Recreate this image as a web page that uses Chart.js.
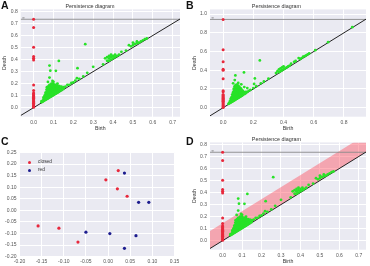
<!DOCTYPE html>
<html>
<head>
<meta charset="utf-8">
<script src="https://cdn.jsdelivr.net/npm/chart.js@4.4.1/dist/chart.umd.min.js"></script>
<style>
body{margin:0;background:#fff;font-family:"Liberation Sans",Arial,sans-serif}
#fig{position:relative;width:370px;height:266px;overflow:hidden}
canvas{position:absolute}
.tag{position:absolute;font-weight:bold;font-size:10.5px;line-height:1;color:#111}
.leg{position:absolute;font-size:4.8px;line-height:1;color:#333;white-space:nowrap}
.dot{position:absolute;width:3px;height:3px;border-radius:50%}
</style>
</head>
<body>
<div id="fig">
  <canvas id="cA" width="185" height="133" style="left:0;top:0"></canvas>
  <canvas id="cB" width="185" height="133" style="left:185px;top:0"></canvas>
  <canvas id="cC" width="185" height="133" style="left:0;top:133px"></canvas>
  <canvas id="cD" width="185" height="133" style="left:185px;top:133px"></canvas>
  <div class="tag" style="left:1px;top:0">A</div>
  <div class="tag" style="left:186px;top:0">B</div>
  <div class="tag" style="left:1px;top:136px">C</div>
  <div class="tag" style="left:186px;top:136px">D</div>
  <div class="dot" style="left:27.5px;top:161.2px;background:#e8283c"></div>
  <div class="leg" style="left:38px;top:160.3px">closed</div>
  <div class="dot" style="left:28.2px;top:168.5px;background:#1c1c8e"></div>
  <div class="leg" style="left:38px;top:167.6px">red</div>
</div>
<script>
// ---- data ----
// panel A / D : persistence diagram (birth, death)
const rangeA = [-0.065, 0.737];
const yRangeA = [-0.075, 0.817];
const infA = 0.735;
const xTicksA = [0, 0.1, 0.2, 0.3, 0.4, 0.5, 0.6, 0.7];
const yTicksA = [0, 0.1, 0.2, 0.3, 0.4, 0.5, 0.6, 0.7, 0.8];
const h0DeathA = [0.735, 0.667, 0.503, 0.425, 0.41, 0.397, 0.189, 0.142, 0.122, 0.115, 0.108, 0.1, 0.093,
  0.086, 0.079, 0.072, 0.065, 0.058, 0.051, 0.044, 0.037, 0.03, 0.023, 0.016, 0.009, 0.003];
const h1A = [
  [0.04,0.045],[0.04,0.055],[0.045,0.05],
  [0.05,0.055],[0.05,0.07],[0.05,0.085],[0.055,0.06],[0.055,0.08],[0.055,0.1],
  [0.06,0.065],[0.06,0.08],[0.06,0.095],[0.06,0.11],[0.06,0.125],[0.065,0.07],[0.065,0.09],[0.065,0.11],[0.065,0.13],[0.065,0.15],
  [0.07,0.075],[0.07,0.09],[0.07,0.105],[0.07,0.12],[0.07,0.135],[0.07,0.15],[0.07,0.165],
  [0.075,0.08],[0.075,0.1],[0.075,0.12],[0.075,0.14],[0.075,0.16],[0.075,0.18],
  [0.08,0.085],[0.08,0.1],[0.08,0.115],[0.08,0.13],[0.08,0.145],[0.08,0.16],[0.08,0.175],[0.08,0.19],
  [0.085,0.09],[0.085,0.11],[0.085,0.13],[0.085,0.15],[0.085,0.17],[0.085,0.19],
  [0.09,0.095],[0.09,0.11],[0.09,0.125],[0.09,0.14],[0.09,0.155],[0.09,0.17],[0.09,0.185],[0.09,0.2],
  [0.095,0.1],[0.095,0.12],[0.095,0.14],[0.095,0.16],[0.095,0.18],[0.095,0.2],
  [0.1,0.105],[0.1,0.12],[0.1,0.135],[0.1,0.15],[0.1,0.165],[0.1,0.18],[0.1,0.195],
  [0.105,0.11],[0.105,0.13],[0.105,0.15],[0.105,0.17],[0.105,0.19],
  [0.11,0.115],[0.11,0.13],[0.11,0.145],[0.11,0.16],[0.11,0.175],[0.11,0.19],
  [0.115,0.12],[0.115,0.14],[0.115,0.16],[0.115,0.18],
  [0.12,0.125],[0.12,0.14],[0.12,0.155],[0.12,0.17],[0.12,0.185],
  [0.125,0.13],[0.125,0.15],[0.125,0.17],
  [0.13,0.135],[0.13,0.15],[0.13,0.165],[0.13,0.18],
  [0.14,0.145],[0.14,0.16],[0.14,0.175],[0.15,0.155],[0.15,0.17],
  [0.16,0.175],[0.17,0.19],[0.18,0.19],[0.19,0.205],[0.2,0.21],[0.21,0.225],[0.23,0.24],[0.25,0.26],
  [0.26,0.528],[0.127,0.389],[0.08,0.35],[0.084,0.308],[0.112,0.306],[0.221,0.328],[0.27,0.29],
  [0.3,0.34],[0.218,0.245],[0.08,0.25],[0.072,0.214],[0.095,0.222],[0.067,0.17],[0.1,0.215],[0.12,0.2],
  [0.35,0.36],[0.36,0.41],[0.37,0.39],[0.37,0.42],[0.38,0.39],[0.38,0.41],[0.38,0.43],[0.39,0.4],
  [0.39,0.42],[0.39,0.44],[0.4,0.41],[0.4,0.43],[0.41,0.42],[0.41,0.44],[0.42,0.43],[0.43,0.44],[0.442,0.464],
  [0.465,0.475],[0.48,0.52],[0.49,0.51],[0.5,0.52],[0.5,0.54],[0.51,0.53],[0.52,0.535],[0.52,0.55],
  [0.53,0.54],[0.54,0.55],[0.55,0.56],[0.56,0.57],[0.57,0.575]
];
const bandOffsetD = 0.145;

// panel B
const rangeB = [-0.087, 0.946];
const yRangeB = [-0.096, 1.05];
const infB = 0.943;
const xTicksB = [0, 0.2, 0.4, 0.6, 0.8];
const yTicksB = [0, 0.2, 0.4, 0.6, 0.8, 1.0];
const h0DeathB = [0.943, 0.62, 0.49, 0.41, 0.4, 0.31, 0.18, 0.17, 0.14, 0.13, 0.12, 0.11, 0.1, 0.09,
  0.08, 0.07, 0.06, 0.05, 0.04, 0.03, 0.02, 0.01, 0.003];
const h1B = [
  [0.035,0.04],[0.04,0.05],[0.045,0.05],[0.045,0.07],
  [0.05,0.055],[0.05,0.075],[0.05,0.095],[0.055,0.06],[0.055,0.085],[0.055,0.11],
  [0.06,0.065],[0.06,0.09],[0.06,0.115],[0.06,0.14],[0.065,0.07],[0.065,0.1],[0.065,0.13],[0.065,0.16],
  [0.07,0.075],[0.07,0.1],[0.07,0.125],[0.07,0.15],[0.07,0.175],[0.07,0.2],
  [0.075,0.08],[0.075,0.11],[0.075,0.14],[0.075,0.17],[0.075,0.2],[0.075,0.225],
  [0.08,0.085],[0.08,0.11],[0.08,0.135],[0.08,0.16],[0.08,0.185],[0.08,0.21],[0.08,0.235],
  [0.085,0.09],[0.085,0.12],[0.085,0.15],[0.085,0.18],[0.085,0.21],[0.085,0.24],
  [0.09,0.095],[0.09,0.12],[0.09,0.145],[0.09,0.17],[0.09,0.195],[0.09,0.22],[0.09,0.245],
  [0.095,0.1],[0.095,0.13],[0.095,0.16],[0.095,0.19],[0.095,0.22],[0.095,0.24],
  [0.1,0.105],[0.1,0.13],[0.1,0.155],[0.1,0.18],[0.1,0.205],[0.1,0.23],
  [0.105,0.11],[0.105,0.14],[0.105,0.17],[0.105,0.2],[0.105,0.225],
  [0.11,0.115],[0.11,0.14],[0.11,0.165],[0.11,0.19],[0.11,0.215],
  [0.115,0.12],[0.115,0.15],[0.115,0.18],[0.115,0.205],
  [0.12,0.125],[0.12,0.15],[0.12,0.175],[0.12,0.2],
  [0.125,0.13],[0.125,0.16],[0.125,0.185],[0.13,0.135],[0.13,0.16],[0.13,0.18],
  [0.14,0.145],[0.14,0.165],[0.15,0.155],[0.15,0.17],[0.16,0.17],[0.17,0.18],[0.18,0.19],
  [0.2,0.21],[0.22,0.23],[0.25,0.26],[0.27,0.28],[0.3,0.31],
  [0.243,0.505],[0.138,0.377],[0.21,0.313],[0.081,0.345],[0.077,0.295],[0.1,0.265],[0.205,0.253],
  [0.12,0.25],[0.14,0.22],[0.16,0.21],[0.066,0.26],
  [0.35,0.37],[0.36,0.39],[0.37,0.38],[0.37,0.41],[0.38,0.39],[0.38,0.42],[0.39,0.4],[0.39,0.43],
  [0.4,0.41],[0.4,0.44],[0.41,0.42],[0.42,0.43],[0.43,0.44],[0.44,0.45],[0.45,0.47],
  [0.47,0.49],[0.48,0.5],[0.5,0.53],[0.51,0.52],[0.52,0.53],[0.53,0.545],[0.54,0.55],[0.55,0.56],
  [0.56,0.57],[0.57,0.58],[0.61,0.615],[0.695,0.7],[0.855,0.86]
];

// panel C : two groups
const xTicksC = [-0.2, -0.15, -0.1, -0.05, 0, 0.05, 0.1, 0.15];
const yTicksC = [-0.2, -0.15, -0.1, -0.05, 0, 0.05, 0.1, 0.15, 0.2, 0.25];
const closedX = [0.023, -0.005, 0.021, 0.043, -0.158, -0.111, -0.068];
const closedY = [0.172, 0.132, 0.093, 0.061, -0.067, -0.077, -0.137];
const redX = [0.037, 0.069, 0.092, -0.05, 0.004, 0.063, 0.037];
const redY = [0.161, 0.035, 0.035, -0.094, -0.1, -0.109, -0.164];

// ---- styling helpers ----
const H0 = '#e8283c', H1 = 'rgb(40,226,40)';
const FAM = '"Liberation Sans", Arial, sans-serif';
const tickFont = {family: FAM, size: 5};
const titleFont = {family: FAM, size: 5.2};

const bgPlugin = {
  id: 'bg',
  beforeDraw(chart) {
    const {ctx, chartArea: a} = chart;
    ctx.save();
    ctx.fillStyle = '#eaeaf2';
    ctx.fillRect(a.left, a.top, a.right - a.left, a.bottom - a.top);
    ctx.restore();
  }
};

function infLabel(val, xmin) {
  return {
    id: 'inf',
    afterDatasetsDraw(chart) {
      const {ctx, scales} = chart;
      ctx.save();
      ctx.fillStyle = '#777';
      ctx.font = '4px "DejaVu Sans", sans-serif';
      ctx.textBaseline = 'bottom';
      ctx.fillText('\u221e', scales.x.getPixelForValue(xmin) + 1, scales.y.getPixelForValue(val) + 0.5);
      ctx.restore();
    }
  };
}

function scales(o) {
  return {
    x: {
      type: 'linear', min: o.x[0], max: o.x[1],
      afterBuildTicks: s => { s.ticks = o.xTicks.map(v => ({value: v})); },
      afterFit: s => { s.height = o.bottom; s.paddingLeft = 0; s.paddingRight = 0; },
      grid: {color: '#fff', lineWidth: 1, drawTicks: false},
      border: {display: false},
      ticks: {padding: o.xPad, color: '#555', font: tickFont, maxRotation: 0, autoSkip: false,
        callback: v => v.toFixed(o.dec)},
      title: {display: !!o.xTitle, text: o.xTitle, color: '#333', font: titleFont, padding: {top: 0, bottom: 1.3}}
    },
    y: {
      type: 'linear', min: o.y[0], max: o.y[1],
      afterBuildTicks: s => { s.ticks = o.yTicks.map(v => ({value: v})); },
      afterFit: s => { s.width = o.left; s.paddingTop = 0; s.paddingBottom = 0; },
      grid: {color: '#fff', lineWidth: 1, drawTicks: false},
      border: {display: false},
      ticks: {padding: 3, color: '#555', font: tickFont, autoSkip: false,
        callback: v => v.toFixed(o.dec)},
      title: {display: !!o.yTitle, text: o.yTitle, color: '#333', font: titleFont, padding: {top: o.yTitlePad, bottom: 0}}
    }
  };
}

function persistence(id, o) {
  const datasets = [
    {label: 'H0', data: o.h0.map(d => ({x: 0, y: d})), backgroundColor: H0, pointRadius: 1.5, borderWidth: 0, order: 1},
    {label: 'H1', data: o.h1.map(p => ({x: p[0], y: p[1]})), backgroundColor: H1, pointRadius: 1.4, borderWidth: 0, order: 0},
    {label: 'diag', data: [{x: o.x[0], y: o.x[0]}, {x: o.x[1], y: o.x[1]}], showLine: true, pointRadius: 0,
      borderColor: '#222', borderWidth: 1, order: 2},
    {label: 'inf', data: [{x: o.x[0], y: o.inf}, {x: o.x[1], y: o.inf}], showLine: true, pointRadius: 0,
      borderColor: '#8a8a8a', borderWidth: 0.9, order: 3}
  ];
  if (o.band != null) {
    datasets.push({label: 'band', data: [{x: o.x[0], y: o.x[0] + o.band}, {x: o.x[1], y: o.x[1] + o.band}],
      showLine: true, pointRadius: 0, borderWidth: 0, fill: 2, backgroundColor: 'rgba(255,70,85,0.42)', order: 4});
  }
  new Chart(document.getElementById(id), {
    type: 'scatter',
    data: {datasets},
    options: {
      responsive: false, animation: false, events: [],
      layout: {padding: {left: 0, right: o.right, top: 0.5, bottom: 0}},
      plugins: {
        legend: {display: false}, tooltip: {enabled: false},
        title: {display: true, text: 'Persistence diagram', color: '#333',
          font: {family: FAM, size: 5.4, weight: 'normal', lineHeight: 1}, padding: {top: 3.5, bottom: 0}}
      },
      scales: scales({x: o.x, y: o.y, xTicks: o.xTicks, yTicks: o.yTicks, dec: 1, left: o.left, bottom: 16.3,
        xPad: 3.3, xTitle: 'Birth', yTitle: 'Death', yTitlePad: o.yTitlePad})
    },
    plugins: [bgPlugin, infLabel(o.inf, o.x[0])]
  });
}

persistence('cA', {x: rangeA, y: yRangeA, xTicks: xTicksA, yTicks: yTicksA, h0: h0DeathA, h1: h1A,
  inf: infA, left: 20.7, right: 5, yTitlePad: 1.5});
persistence('cB', {x: rangeB, y: yRangeB, xTicks: xTicksB, yTicks: yTicksB, h0: h0DeathB, h1: h1B,
  inf: infB, left: 25, right: 2.3, yTitlePad: 6.5});
persistence('cD', {x: rangeA, y: yRangeA, xTicks: xTicksA, yTicks: yTicksA, h0: h0DeathA, h1: h1A,
  inf: infA, left: 25, right: 2.3, yTitlePad: 6.5, band: bandOffsetD});

new Chart(document.getElementById('cC'), {
  type: 'scatter',
  data: {
    datasets: [
      {label: 'closed', data: closedX.map((x, i) => ({x, y: closedY[i]})), backgroundColor: '#e8283c', pointRadius: 1.6, borderWidth: 0},
      {label: 'red', data: redX.map((x, i) => ({x, y: redY[i]})), backgroundColor: '#1c1c8e', pointRadius: 1.6, borderWidth: 0}
    ]
  },
  options: {
    responsive: false, animation: false, events: [],
    layout: {padding: {left: 0, right: 10.5, top: 19.5, bottom: 0}},
    plugins: {legend: {display: false}, tooltip: {enabled: false}},
    scales: scales({x: [-0.2, 0.15], y: [-0.2, 0.25], xTicks: xTicksC, yTicks: yTicksC, dec: 2,
      left: 19.5, bottom: 9.3, xPad: 2.2})
  },
  plugins: [bgPlugin]
});
</script>
</body>
</html>
